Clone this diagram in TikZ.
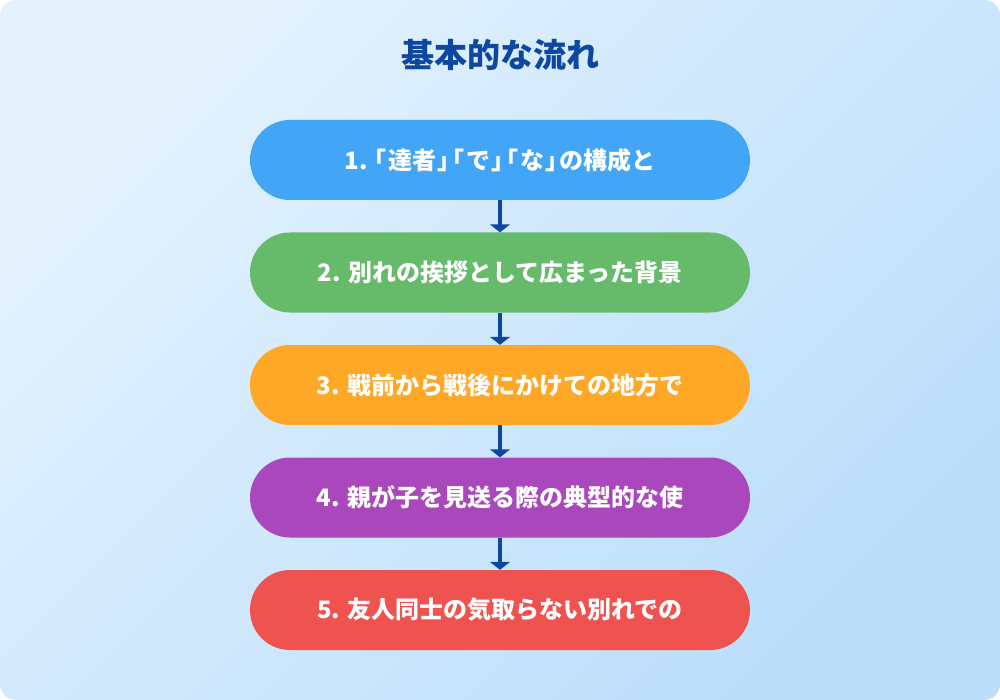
\documentclass[tikz,border=0pt]{standalone}
\usepackage{fontspec}
\setmainfont{Noto Sans CJK JP}[RawFeature=+halt]
\usetikzlibrary{arrows.meta}
\definecolor{bgA}{HTML}{E3F2FD}
\definecolor{bgB}{HTML}{BBDEFB}
\definecolor{titleblue}{HTML}{0D47A1}
\definecolor{arrowblue}{HTML}{0D47A1}
\definecolor{cA}{HTML}{42A5F5}
\definecolor{cB}{HTML}{66BB6A}
\definecolor{cC}{HTML}{FFA726}
\definecolor{cD}{HTML}{AB47BC}
\definecolor{cE}{HTML}{EF5350}
\newcommand{\obr}{\hspace{1.5pt}「\hspace{1.5pt}}
\newcommand{\cbr}{\hspace{1.5pt}」\hspace{1.5pt}}
\tikzset{
  stepbox/.style={fill=#1, draw=none, rounded corners=40pt, minimum width=500pt, minimum height=80pt,
    inner sep=0pt, text=white, font=\fontsize{24pt}{28pt}\selectfont\bfseries, anchor=center},
  flowarrow/.style={draw=arrowblue, line width=4pt, -{Triangle[width=20pt,length=8pt]}}
}
\begin{document}
\begin{tikzpicture}[x=1pt,y=-1pt]
\useasboundingbox (0,0) rectangle (1000,700);
\shade[left color=bgA, right color=bgB, shading angle=45, rounded corners=16pt] (0,0) rectangle (1000,700);
\node[text=titleblue, font=\fontsize{33pt}{38pt}\selectfont\bfseries] (title) at (500,55) {基本的な流れ};
\node[stepbox=cA] (s1) at (500,160) {1.\ \obr 達者\cbr\obr で\cbr\obr な\cbr の構成と};
\node[stepbox=cB] (s2) at (500,272.5) {2. 別れの挨拶として広まった背景};
\node[stepbox=cC] (s3) at (500,385) {3. 戦前から戦後にかけての地方で};
\node[stepbox=cD] (s4) at (500,497.5) {4. 親が子を見送る際の典型的な使};
\node[stepbox=cE] (s5) at (500,610) {5. 友人同士の気取らない別れでの};
\draw[flowarrow] (s1.south) -- (s2.north);
\draw[flowarrow] (s2.south) -- (s3.north);
\draw[flowarrow] (s3.south) -- (s4.north);
\draw[flowarrow] (s4.south) -- (s5.north);
\end{tikzpicture}
\end{document}
